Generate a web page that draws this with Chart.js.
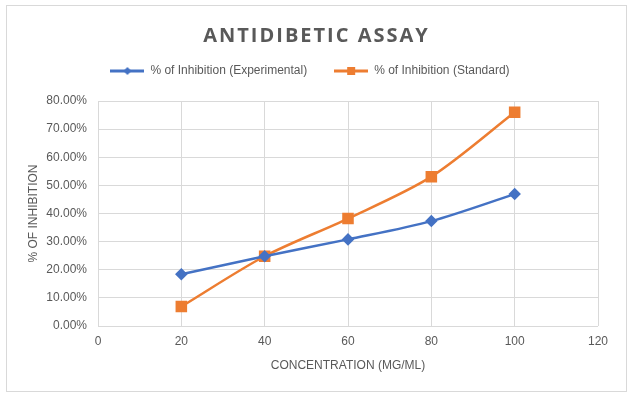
<!DOCTYPE html>
<html lang="en">
<head>
    <meta charset="UTF-8">
    <title>Antidibetic Assay</title>
    <script src="https://cdnjs.cloudflare.com/ajax/libs/Chart.js/4.4.0/chart.umd.min.js"></script>
    <style>
        body { margin: 0; background: #fff; }
        .frame {
            position: absolute; left: 6px; top: 5px; width: 619px; height: 385px;
            border: 1px solid #d9d9d9;
        }
        .wrap { position: absolute; left: 0; top: 0; width: 633px; height: 397px; }
        .chart-title {
            position: absolute; left: 0; width: 633px; top: 21px; text-align: center;
            font: bold 20px "Open Sans", sans-serif; letter-spacing: 2px; color: #595959;
        }
    </style>
</head>
<body>
    <div class="frame"></div>
    <div class="wrap"><canvas id="assayChart"></canvas></div>
    <div class="chart-title">ANTIDIBETIC ASSAY</div>

    <script>
        // data
        const concentration = [20, 40, 60, 80, 100];
        const experimental = [18.4, 24.8, 30.8, 37.3, 46.9];
        const standard = [6.9, 24.8, 38.2, 53.1, 76.0];
        const seriesNames = ['% of Inhibition (Experimental)', '% of Inhibition (Standard)'];

        const blue = '#4472C4';
        const orange = '#ED7D31';
        const grey = '#595959';

        // small legend icon: line with marker on it
        function legendIcon(color, marker) {
            const c = document.createElement('canvas');
            c.width = 34; c.height = 10;
            const g = c.getContext('2d');
            g.strokeStyle = color; g.lineWidth = 3;
            g.beginPath(); g.moveTo(0, 5); g.lineTo(34, 5); g.stroke();
            g.fillStyle = color;
            if (marker === 'diamond') {
                g.beginPath(); g.moveTo(17, 1); g.lineTo(21, 5); g.lineTo(17, 9); g.lineTo(13, 5); g.closePath(); g.fill();
            } else {
                g.fillRect(13, 1, 8, 8);
            }
            return c;
        }
        const icons = [legendIcon(blue, 'diamond'), legendIcon(orange, 'square')];

        const toPoints = vals => concentration.map((x, i) => ({ x: x, y: vals[i] }));

        // legend sits higher than its padding allows, so give back the space below it
        const legendSpace = {
            id: 'legendSpace',
            beforeInit(chart) {
                const fit = chart.legend.fit;
                chart.legend.fit = function () {
                    fit.bind(chart.legend)();
                    this.height += 14;
                };
            }
        };

        new Chart(document.getElementById('assayChart'), {
            type: 'scatter',
            data: {
                datasets: [{
                    label: seriesNames[0],
                    data: toPoints(experimental),
                    showLine: true,
                    borderColor: blue,
                    backgroundColor: blue,
                    borderWidth: 2.5,
                    tension: 0.3,
                    pointStyle: 'rectRot',
                    pointRadius: 4.5,
                    pointHoverRadius: 4.5
                }, {
                    label: seriesNames[1],
                    data: toPoints(standard),
                    showLine: true,
                    borderColor: orange,
                    backgroundColor: orange,
                    borderWidth: 2.5,
                    tension: 0.3,
                    pointStyle: 'rect',
                    pointRadius: 6.4,
                    pointHoverRadius: 6.4
                }]
            },
            plugins: [legendSpace],
            options: {
                responsive: true,
                maintainAspectRatio: false,
                animation: false,
                layout: { padding: { top: 38, left: 22, right: 35, bottom: 20 } },
                plugins: {
                    tooltip: { enabled: false },
                    legend: {
                        labels: {
                            color: grey,
                            font: { family: 'Liberation Sans', size: 12 },
                            usePointStyle: true,
                            pointStyleWidth: 34,
                            padding: 27,
                            generateLabels: function (chart) {
                                const items = Chart.defaults.plugins.legend.labels.generateLabels(chart);
                                items.forEach((it, i) => { it.pointStyle = icons[i]; });
                                return items;
                            }
                        }
                    }
                },
                scales: {
                    x: {
                        type: 'linear',
                        min: 0, max: 120,
                        ticks: { stepSize: 20, color: grey, padding: 8, font: { family: 'Liberation Sans', size: 12 } },
                        grid: { color: '#d9d9d9', drawTicks: false },
                        border: { display: false },
                        title: { display: true, text: 'CONCENTRATION (MG/ML)', color: grey, font: { family: 'Liberation Sans', size: 12 } },
                        afterFit: function (s) { s.height = 51; }
                    },
                    y: {
                        min: 0, max: 80,
                        ticks: {
                            stepSize: 10, color: grey, padding: 11,
                            font: { family: 'Liberation Sans', size: 12 },
                            callback: v => v.toFixed(2) + '%'
                        },
                        grid: { color: '#d9d9d9', drawTicks: false },
                        border: { display: false },
                        title: { display: true, text: '% OF INHIBITION', color: grey, font: { family: 'Liberation Sans', size: 12 } },
                        afterFit: function (s) { s.width = 76; }
                    }
                }
            }
        });
    </script>
</body>
</html>
